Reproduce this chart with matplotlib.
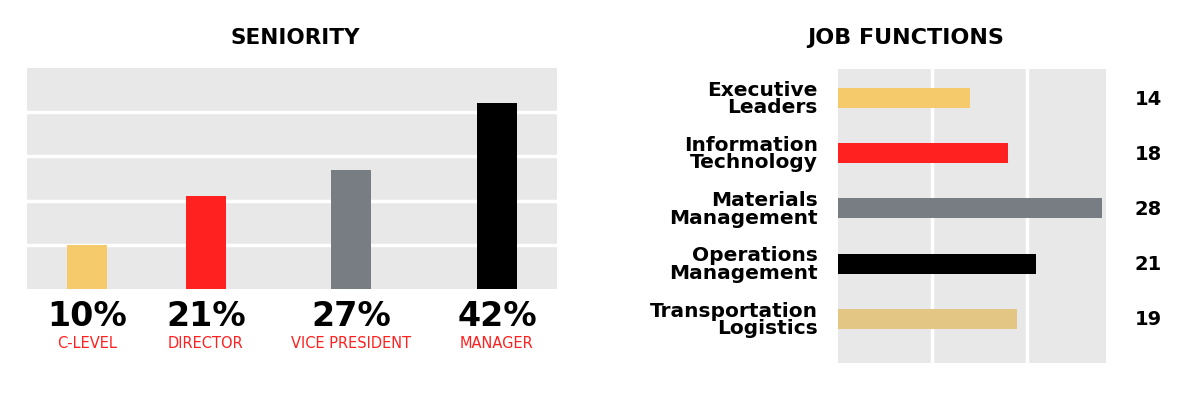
import matplotlib
matplotlib.use("Agg")
from matplotlib import pyplot as plt

# seniority data
seniority_labels = ["C-LEVEL", "DIRECTOR", "VICE PRESIDENT", "MANAGER"]
seniority_values = [10, 21, 27, 42]
seniority_colors = ["#f5ca6a", "#ff2020", "#787c83", "#000000"]

# job functions data
job_labels = ["Executive\nLeaders", "Information\nTechnology", "Materials\nManagement",
              "Operations\nManagement", "Transportation\nLogistics"]
job_values = [14, 18, 28, 21, 19]
job_colors = ["#f5ca6a", "#ff2020", "#787c83", "#000000", "#e3c584"]

BG = "#e8e8e8"
RED = "#ff2020"

# uneven bar placement, as in the original layout
bar_x = [0, 0.87, 1.93, 3.0]

fig = plt.figure(figsize=(12, 4.02), dpi=100)
fig.patch.set_facecolor("white")

# ---- left: seniority ----
ax1 = fig.add_axes([0.0225, 0.2786, 0.4417, 0.5498])
ax1.set_facecolor(BG)
ax1.bar(bar_x, seniority_values, width=0.29, color=seniority_colors, zorder=3)
ax1.set_xlim(-0.44, 3.44)
ax1.set_ylim(0, 50)
ax1.set_yticks([10, 20, 30, 40])
ax1.grid(axis="y", color="white", linewidth=2.5, zorder=1)
ax1.tick_params(left=False, bottom=False, labelleft=False, labelbottom=False)
for s in ax1.spines.values():
    s.set_visible(False)

trans = ax1.get_xaxis_transform()
for x, v, lab in zip(bar_x, seniority_values, seniority_labels):
    ax1.text(x, -0.118, "{}%".format(v), transform=trans, ha="center", va="center",
             fontsize=24, fontweight="heavy", color="black")
    ax1.text(x, -0.24, lab, transform=trans, ha="center", va="center",
             fontsize=10.5, color=RED)

fig.text(295 / 1200, 1 - 38 / 402, "SENIORITY", ha="center", va="center",
         fontsize=15.5, fontweight="heavy")

# ---- right: job functions ----
ax2 = fig.add_axes([0.6983, 0.0945, 0.2233, 0.7313])
ax2.set_facecolor(BG)
ypos = list(range(len(job_values)))
ax2.barh(ypos, job_values, height=0.36, color=job_colors, zorder=3)
ax2.set_xlim(0, 28.4)
ax2.set_ylim(len(job_values) - 1 + 0.8, -0.525)
ax2.set_xticks([10, 20])
ax2.grid(axis="x", color="white", linewidth=2.5, zorder=1)
ax2.tick_params(left=False, bottom=False, labelleft=False, labelbottom=False)
for s in ax2.spines.values():
    s.set_visible(False)

ytrans = ax2.get_yaxis_transform()
for y, v, lab in zip(ypos, job_values, job_labels):
    ax2.text(-0.075, y, lab, transform=ytrans, ha="right", va="center",
             fontsize=14.5, fontweight="heavy", linespacing=0.9)
    ax2.text(1.108, y, str(v), transform=ytrans, ha="left", va="center",
             fontsize=14, fontweight="heavy")

fig.text(906 / 1200, 1 - 38 / 402, "JOB FUNCTIONS", ha="center", va="center",
         fontsize=16, fontweight="heavy")

fig.savefig("out.png", dpi=100, facecolor="white")
